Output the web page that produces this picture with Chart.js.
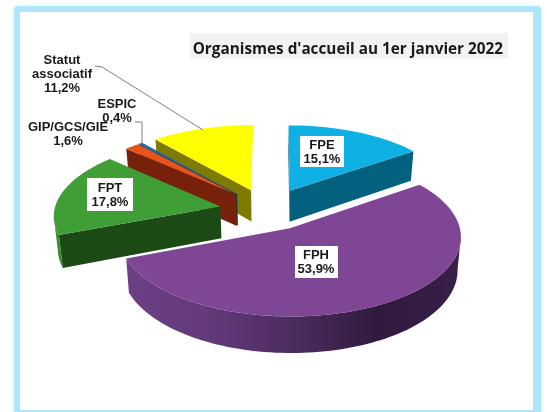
<!DOCTYPE html>
<html>
<head>
<meta charset="utf-8">
<script src="https://cdn.jsdelivr.net/npm/chart.js@4"></script>
<style>
    html, body { margin: 0; padding: 0; background: #fff; }
    #frame {
        position: absolute; left: 14px; top: 6px; width: 513px; height: 398px;
        border: 6px solid #aee6fb; border-right-width: 8px; border-radius: 4px; box-shadow: 0 0 4px #c5eefc;
    }
    #adminPie { position: absolute; left: 0; top: 0; }
</style>
</head>
<body>
<div id="frame"></div>
<canvas id="adminPie" width="547" height="412"></canvas>
<script>
const categories = ['FPE', 'FPH', 'FPT', 'GIP/GCS/GIE', 'ESPIC', 'Statut associatif'];
const shares = [15.1, 53.9, 17.8, 1.6, 0.4, 11.2];
const shareLabels = ['15,1%', '53,9%', '17,8%', '1,6%', '0,4%', '11,2%'];
const chartTitle = "Organismes d'accueil au 1er janvier 2022";

// looks
const topColors = ['#0fb0e3', '#7f4696', '#3f9f36', '#e8531b', '#1468ad', '#ffff00'];
const faceColors = ['#04607f', '#4f2d63', '#1c4a14', '#77200a', '#0c3a60', '#7f7a00'];
const wallColors = [
    ['#04607f', '#04607f'],
    ['#6d4086', '#633a79', '#4c2c60', '#2f1b3d', '#38204a'],
    ['#3b8f30', '#2a6a22'],
    ['#77200a', '#77200a'],
    ['#0c3a60', '#0c3a60'],
    ['#7f7a00', '#7f7a00'],
];
const explode = [46, 41, 57, 54, 54, 52];
const explodeTurn = [-10, 10, -2, -5, -7, -10];
const drawOrder = [5, 0, 4, 3, 2, 1];

const tilt = 0.455;
const perspective = 0.1;
const depth = 32;
const converge = 0.018;

const pie3d = {
    id: 'pie3d',
    beforeDatasetDraw(chart, args) {
        const ctx = chart.ctx;
        const arcs = args.meta.data;

        const fillPath = (pts, color) => {
            ctx.fillStyle = color;
            ctx.beginPath();
            pts.forEach((p, i) => (i ? ctx.lineTo(p.x, p.y) : ctx.moveTo(p.x, p.y)));
            ctx.closePath();
            ctx.fill();
        };

        drawOrder.forEach((i) => {
            const arc = arcs[i];
            const R = arc.outerRadius;
            const dir = (arc.startAngle + arc.endAngle) / 2 + explodeTurn[i] * Math.PI / 180;
            const ox = Math.cos(dir) * explode[i];
            const oy = Math.sin(dir) * explode[i];
            const project = (u, v) => {
                const w = 1 / (1 - perspective * v / R);
                return { x: arc.x + u * w, y: arc.y + tilt * v * w, w };
            };
            const drop = (p) => ({ x: arc.x + (p.x - arc.x) * (1 - converge), y: p.y + depth * p.w });

            const apex = project(ox, oy);
            const rim = [];
            const steps = Math.max(2, Math.ceil((arc.endAngle - arc.startAngle) / 0.03));
            for (let s = 0; s <= steps; s++) {
                const a = arc.startAngle + (arc.endAngle - arc.startAngle) * s / steps;
                rim.push(project(ox + R * Math.cos(a), oy + R * Math.sin(a)));
            }
            const first = rim[0];
            const last = rim[rim.length - 1];

            // only faces turned to the viewer, then the top
            if (first.x < apex.x) fillPath([apex, first, drop(first), drop(apex)], faceColors[i]);
            if (apex.x < last.x - 4) fillPath([last, apex, drop(apex), drop(last)], faceColors[i]);

            const front = rim.filter((p, n) => (n + 1 < rim.length && rim[n + 1].x < p.x) || (n > 0 && p.x < rim[n - 1].x));
            if (front.length > 1) {
                const xs = rim.map((p) => p.x);
                const grad = ctx.createLinearGradient(Math.min(...xs), 0, Math.max(...xs), 0);
                wallColors[i].forEach((c, n) => grad.addColorStop(n / (wallColors[i].length - 1), c));
                fillPath(front.concat(front.map(drop).reverse()), grad);
            }
            fillPath([apex].concat(rim), arc.options.backgroundColor);
        });
        return false;
    },
};

const labelLayer = {
    id: 'labelLayer',
    beforeDraw(chart) {
        const ctx = chart.ctx;
        const t = chart.titleBlock;
        ctx.save();
        ctx.font = 'bold 15.3px "Open Sans"';
        const w = ctx.measureText(chartTitle).width;
        ctx.fillStyle = '#f2f2f2';
        ctx.fillRect(t.right - w - 3, 33, w + 8, 26);
        ctx.restore();
    },
    afterDraw(chart) {
        const ctx = chart.ctx;
        ctx.save();

        ctx.strokeStyle = '#808080';
        ctx.lineWidth = 1;
        ctx.beginPath();
        ctx.moveTo(95, 66); ctx.lineTo(102, 67); ctx.lineTo(203, 130);
        ctx.moveTo(135, 122); ctx.lineTo(142, 122); ctx.lineTo(142, 144);
        ctx.stroke();

        ctx.font = 'bold 13px "Liberation Sans"';
        ctx.textAlign = 'center';
        ctx.textBaseline = 'middle';
        const write = (lines, x, y) => {
            ctx.fillStyle = '#1a1a1a';
            lines.forEach((l, n) => ctx.fillText(l, x, y + n * 14));
        };
        [[300, 136, 44, 31], [295, 246, 43, 32], [87, 178, 46, 33]].forEach((b) => {
            ctx.fillStyle = '#fff';
            ctx.fillRect(b[0], b[1], b[2], b[3]);
        });
        write([categories[0], shareLabels[0]], 322, 145);
        write([categories[1], shareLabels[1]], 316, 255);
        write([categories[2], shareLabels[2]], 110, 188);
        write([categories[3], shareLabels[3]], 68, 127);
        write([categories[4], shareLabels[4]], 117, 104);
        write(['Statut', 'associatif', shareLabels[5]], 62, 60);
        ctx.restore();
    },
};

new Chart(document.getElementById('adminPie'), {
    type: 'pie',
    data: {
        labels: categories,
        datasets: [
            {
                data: shares,
                backgroundColor: topColors,
                borderWidth: 0,
            },
        ],
    },
    options: {
        responsive: false,
        animation: false,
        radius: 166,
        layout: { padding: { top: 40, right: 44, bottom: 56, left: 50 } },
        plugins: {
            legend: { display: false },
            tooltip: { enabled: false },
            title: {
                display: true,
                text: chartTitle,
                align: 'end',
                color: '#1a1a1a',
                font: { family: '"Open Sans"', size: 15.3, weight: 'bold' },
                padding: { top: 0, bottom: 6 },
            },
        },
    },
    plugins: [labelLayer, pie3d],
});
</script>
</body>
</html>
